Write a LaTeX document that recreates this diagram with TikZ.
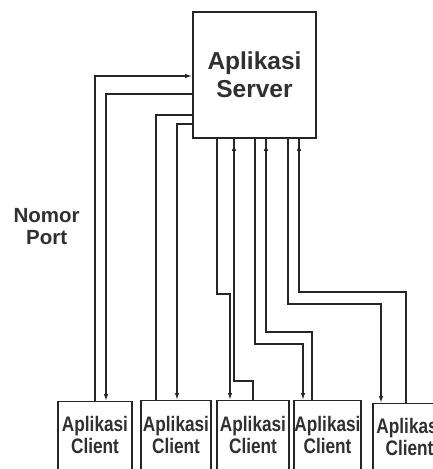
\documentclass[tikz,border=0pt]{standalone}
\usepackage{fontspec}
\setmainfont{Liberation Sans}
\newfontfamily\clientfont[FakeStretch=0.82]{Liberation Sans}
\usetikzlibrary{arrows.meta,decorations.markings}
\definecolor{ink}{HTML}{262626}
\definecolor{txt}{HTML}{303030}
\begin{document}
\begin{tikzpicture}[x=1pt,y=-1pt,
  conn/.style={ink, line width=1.6pt},
  tipend/.style={-{Latex[length=7pt,width=4.5pt]}},
  upmark/.style={postaction={decorate}, decoration={markings, mark=at position -5pt with {\arrow{Latex[length=7pt,width=4.5pt]}}}},
  serverbox/.style={draw=ink, line width=1.6pt, minimum width=123pt, minimum height=126pt, inner sep=0pt, align=center, font=\bfseries\fontsize{24.5}{28}\selectfont, text=txt},
  clientbox/.style={draw=ink, line width=1.4pt, minimum height=90pt, inner sep=0pt, anchor=north},
  clienttext/.style={align=center, inner sep=0pt, text=txt, font=\clientfont\bfseries\fontsize{21}{22}\selectfont},
  portlabel/.style={align=center, inner sep=0pt, text=txt, font=\bfseries\fontsize{20.5}{22}\selectfont}
]
\useasboundingbox (0,0) rectangle (433,469);
\clip (0,0) rectangle (433,469);
\fill[white] (0,0) rectangle (433,469);

\node[serverbox] (server) at (254.5,75) {Aplikasi\\Server};
\node[portlabel] (port) at (46.7,226.5) {Nomor\\Port};

\node[clientbox, minimum width=74pt] (c1) at (95,401) {};
\node[clienttext] (t1) at (95,434.5) {Aplikasi\\Client};
\node[clientbox, minimum width=70pt] (c2) at (176,400) {};
\node[clienttext] (t2) at (176,434.5) {Aplikasi\\Client};
\node[clientbox, minimum width=72pt] (c3) at (253,400) {};
\node[clienttext] (t3) at (253,434.5) {Aplikasi\\Client};
\node[clientbox, minimum width=67pt] (c4) at (327.5,400) {};
\node[clienttext] (t4) at (327.5,434.5) {Aplikasi\\Client};
\node[clientbox, minimum width=73pt] (c5) at (409.5,403) {};
\node[clienttext] (t5) at (409.5,436.5) {Aplikasi\\Client};

\draw[conn, tipend] (95,0 |- c1.north) |- (server.west |- 0,76);
\draw[conn, tipend] (server.west |- 0,94) -| (106,0 |- c1.north);
\draw[conn] (156,0 |- c2.north) |- (server.west |- 0,115);
\draw[conn, tipend] (server.west |- 0,124) -| (177,0 |- c2.north);
\draw[conn, tipend] (217,0 |- server.south) |- (230,294) -- (230,0 |- c3.north);
\draw[conn, upmark] (253,0 |- c3.north) |- (234,381) -- (234,0 |- server.south);
\draw[conn, tipend] (255,0 |- server.south) |- (303,344) -- (303,0 |- c4.north);
\draw[conn, upmark] (312,0 |- c4.north) |- (266,332) -- (266,0 |- server.south);
\draw[conn, tipend] (288,0 |- server.south) |- (381,304) -- (381,0 |- c5.north);
\draw[conn, upmark] (406,0 |- c5.north) |- (299,292) -- (299,0 |- server.south);
\end{tikzpicture}
\end{document}
